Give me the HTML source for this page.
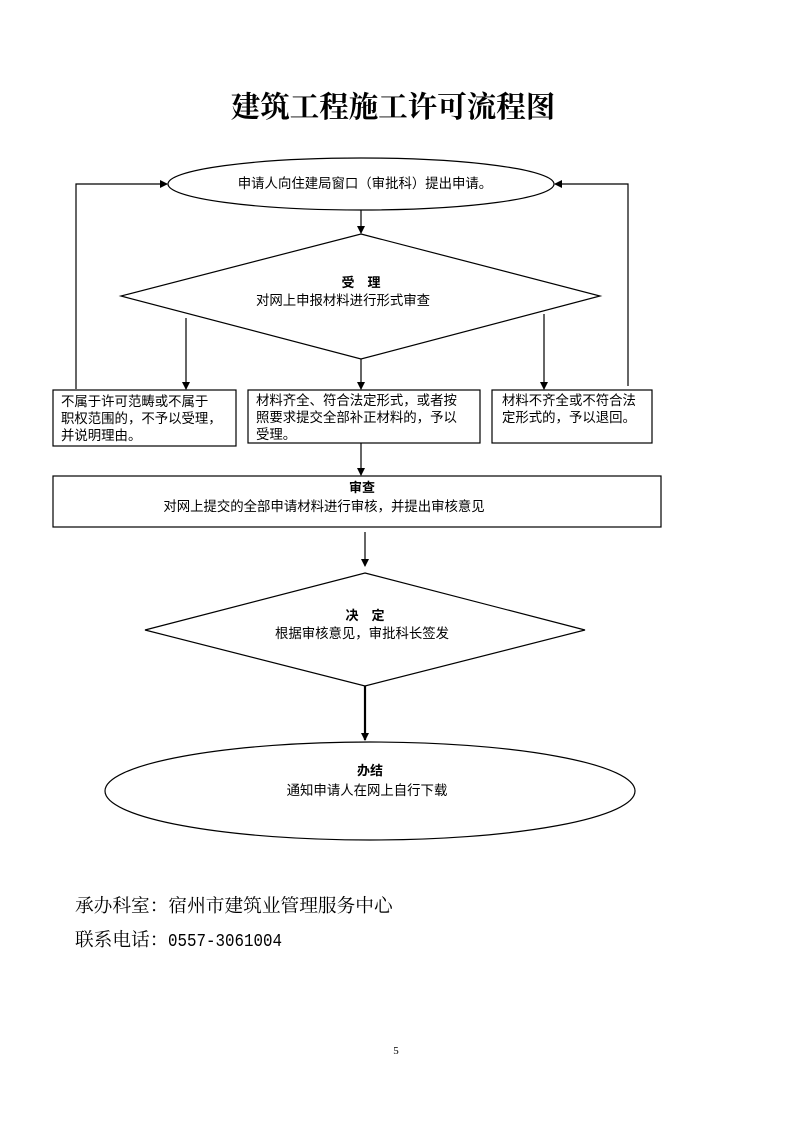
<!DOCTYPE html>
<html><head><meta charset="utf-8"><style>
html,body{margin:0;padding:0;background:#fff}
svg{display:block}
text{font-family:"Liberation Serif","Noto Serif CJK SC",serif;fill:#000}
.s{font-family:"Liberation Sans","Noto Sans CJK SC",sans-serif;font-size:13.4px}
.b{font-family:"Liberation Sans","Noto Sans CJK SC",sans-serif;font-size:13px;font-weight:bold}
</style></head><body>
<svg width="793" height="1122" viewBox="0 0 793 1122" xmlns="http://www.w3.org/2000/svg">
<defs><marker id="a" markerWidth="8" markerHeight="8" refX="7" refY="4" orient="auto" markerUnits="userSpaceOnUse"><path d="M0,0 L8,4 L0,8 z" fill="#000"/></marker></defs>
<text x="393" y="117" text-anchor="middle" style="font-size:29.5px;font-weight:bold;font-family:'Noto Serif CJK SC',serif">建筑工程施工许可流程图</text>
<g fill="none" stroke="#000" stroke-width="1.2">
<ellipse cx="361" cy="184" rx="193" ry="26"/>
<line x1="361" y1="210" x2="361" y2="233" marker-end="url(#a)"/>
<polygon points="361,234 600,296 361,359 121,296"/>
<polyline points="76,389 76,184 167,184" marker-end="url(#a)"/>
<polyline points="628,386 628,184 555,184" marker-end="url(#a)"/>
<line x1="186" y1="318" x2="186" y2="389" marker-end="url(#a)"/>
<line x1="361" y1="359" x2="361" y2="389" marker-end="url(#a)"/>
<line x1="544" y1="314" x2="544" y2="389" marker-end="url(#a)"/>
<rect x="53" y="390" width="183" height="56"/>
<rect x="248" y="390" width="232" height="53"/>
<rect x="492" y="390" width="160" height="53"/>
<line x1="361" y1="443" x2="361" y2="475" marker-end="url(#a)"/>
<rect x="53" y="476" width="608" height="51"/>
<line x1="365" y1="532" x2="365" y2="566" marker-end="url(#a)"/>
<polygon points="365,573 585,630 365,686 145,630"/>
<line x1="365" y1="686" x2="365" y2="740" stroke-width="2.2" marker-end="url(#a)"/>
<ellipse cx="370" cy="791" rx="265" ry="49"/>
</g>
<text class="s" x="365" y="188" text-anchor="middle">申请人向住建局窗口（审批科）提出申请。</text>
<text class="b" x="361" y="287" text-anchor="middle">受　理</text>
<text class="s" x="343" y="305" text-anchor="middle">对网上申报材料进行形式审查</text>
<text class="s" x="61" y="406">不属于许可范畴或不属于</text>
<text class="s" x="61" y="423">职权范围的，不予以受理，</text>
<text class="s" x="61" y="440">并说明理由。</text>
<text class="s" x="256" y="405">材料齐全、符合法定形式，或者按</text>
<text class="s" x="256" y="422">照要求提交全部补正材料的，予以</text>
<text class="s" x="256" y="439">受理。</text>
<text class="s" x="502" y="405">材料不齐全或不符合法</text>
<text class="s" x="502" y="422">定形式的，予以退回。</text>
<text class="b" x="362" y="492" text-anchor="middle">审查</text>
<text class="s" x="324" y="511" text-anchor="middle">对网上提交的全部申请材料进行审核，并提出审核意见</text>
<text class="b" x="365" y="620" text-anchor="middle">决　定</text>
<text class="s" x="362" y="638" text-anchor="middle">根据审核意见，审批科长签发</text>
<text class="b" x="370" y="775" text-anchor="middle">办结</text>
<text class="s" x="367" y="795" text-anchor="middle">通知申请人在网上自行下载</text>
<text x="75" y="912" style="font-size:18.7px">承办科室：宿州市建筑业管理服务中心</text>
<text x="75" y="946" style="font-size:18.7px">联系电话：</text>
<text x="168" y="946" textLength="114" lengthAdjust="spacingAndGlyphs" style="font-family:'Liberation Mono',monospace;font-size:18px">0557-3061004</text>
<text x="396" y="1054" text-anchor="middle" style="font-size:11px">5</text>
</svg>
</body></html>
